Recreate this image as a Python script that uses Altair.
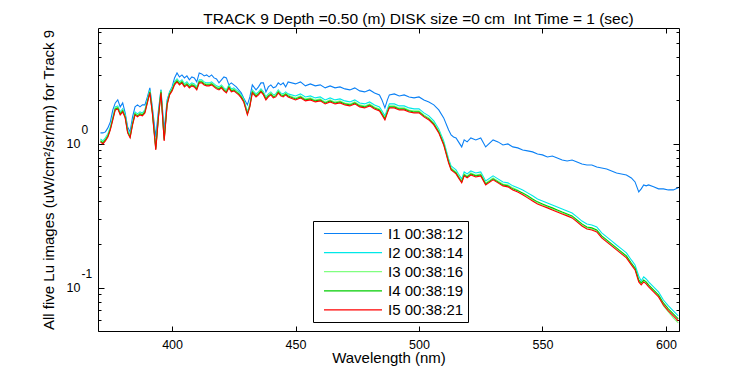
import altair as alt
import pandas as pd

wavelength = [371, 372, 373, 374, 375, 376, 377, 378, 379, 380,
              381, 382, 383, 384, 385, 386, 387, 388, 389, 390,
              391, 392, 393.4, 394.5, 395.5, 396.8, 398, 399, 400, 401,
              402, 403, 404, 405, 406, 407, 408, 409, 410, 411,
              412, 413, 414, 415, 416, 417, 418, 419, 420, 421,
              422, 423, 424, 425, 426, 427, 428, 429, 430.5, 431.5,
              432.5, 434, 435, 436, 437, 438, 439, 440, 441, 442,
              443, 444, 445, 446, 447, 450, 452, 454, 456, 458,
              460, 462, 464, 466, 468, 470, 472, 474, 476, 478,
              480, 482, 484, 485, 486.2, 487.2, 488, 490, 492, 494,
              496, 498, 500, 502, 504, 506, 508, 510, 512, 513,
              514, 515, 516, 517.3, 518.3, 519.5, 521, 523, 525, 527,
              530, 532, 534, 536, 538, 540, 542, 544, 546, 548,
              550, 552, 554, 556, 558, 560, 562, 564, 566, 568,
              570, 572, 574, 576, 578, 580, 582, 584, 586, 587.5,
              589, 590, 591, 592, 593, 595, 597, 599, 601, 603,
              605]

lu_i1 = [1.187, 1.187, 1.206, 1.286, 1.415, 1.714, 1.917, 2.012, 1.799, 1.917,
         1.634, 1.307, 1.206, 1.533, 1.799, 1.857, 1.799, 1.857, 1.857, 2.110,
         2.438, 1.799, 1.113, 1.714, 2.360, 1.245, 2.012, 2.286, 2.477, 2.859,
         3.097, 2.905, 3.000, 2.859, 2.952, 2.770, 2.905, 2.859, 2.683, 3.097,
         3.048, 2.952, 3.000, 2.905, 3.000, 2.859, 2.814, 2.640, 2.770, 2.905,
         2.859, 2.557, 2.640, 2.557, 2.477, 2.360, 2.250, 2.077, 1.857, 2.110,
         2.557, 2.360, 2.477, 2.640, 2.640, 2.286, 2.477, 2.557, 2.438, 2.477,
         2.640, 2.557, 2.640, 2.477, 2.683, 2.598, 2.683, 2.517, 2.598, 2.517,
         2.557, 2.438, 2.517, 2.438, 2.477, 2.399, 2.360, 2.438, 2.323, 2.286,
         2.360, 2.250, 2.179, 2.012, 1.770, 2.012, 2.179, 2.214, 2.144, 2.179,
         2.110, 2.077, 2.110, 2.012, 1.948, 1.857, 1.714, 1.509, 1.245, 1.150,
         1.113, 1.096, 1.028, 0.949, 1.061, 1.028, 1.096, 1.061, 1.096, 0.949,
         1.061, 1.028, 0.979, 0.995, 0.949, 0.934, 0.904, 0.890, 0.876, 0.848,
         0.835, 0.808, 0.821, 0.796, 0.770, 0.758, 0.770, 0.746, 0.722, 0.711,
         0.711, 0.689, 0.678, 0.667, 0.646, 0.626, 0.616, 0.606, 0.578, 0.542,
         0.462, 0.485, 0.517, 0.509, 0.517, 0.501, 0.485, 0.485, 0.477, 0.477,
         0.493]

lu_i2 = [1.078, 1.044, 1.096, 1.168, 1.307, 1.533, 1.799, 1.828, 1.660, 1.742,
         1.583, 1.245, 1.150, 1.415, 1.660, 1.608, 1.660, 1.634, 1.714, 2.012,
         2.360, 1.714, 0.949, 1.608, 2.360, 1.096, 1.948, 2.286, 2.438, 2.683,
         2.814, 2.683, 2.770, 2.598, 2.683, 2.557, 2.640, 2.598, 2.477, 2.770,
         2.770, 2.683, 2.640, 2.640, 2.683, 2.598, 2.517, 2.477, 2.557, 2.438,
         2.360, 2.557, 2.399, 2.438, 2.360, 2.286, 2.179, 2.044, 1.660, 1.887,
         2.360, 2.214, 2.286, 2.399, 2.286, 2.110, 2.214, 2.286, 2.179, 2.214,
         2.360, 2.250, 2.214, 2.286, 2.214, 2.144, 2.214, 2.110, 2.144, 2.077,
         2.110, 2.012, 2.077, 2.012, 2.044, 1.980, 1.948, 2.012, 1.917, 1.887,
         1.948, 1.857, 1.799, 1.687, 1.558, 1.742, 1.887, 1.887, 1.828, 1.828,
         1.770, 1.742, 1.742, 1.634, 1.558, 1.438, 1.265, 1.044, 0.783, 0.700,
         0.678, 0.657, 0.616, 0.569, 0.636, 0.616, 0.646, 0.626, 0.636, 0.551,
         0.597, 0.569, 0.542, 0.534, 0.509, 0.493, 0.477, 0.455, 0.434, 0.413,
         0.400, 0.387, 0.375, 0.363, 0.352, 0.341, 0.330, 0.310, 0.290, 0.277,
         0.272, 0.264, 0.2398, 0.2250, 0.2110, 0.1979, 0.1857, 0.1742, 0.1557, 0.1438,
         0.1206, 0.1113, 0.1187, 0.1149, 0.1096, 0.1011, 0.0934, 0.0821, 0.0747, 0.0689,
         0.0636]

lu_i3 = [1.061, 1.028, 1.078, 1.150, 1.286, 1.509, 1.770, 1.799, 1.634, 1.714,
         1.558, 1.226, 1.131, 1.393, 1.634, 1.583, 1.634, 1.608, 1.687, 1.980,
         2.323, 1.687, 0.934, 1.583, 2.323, 1.078, 1.917, 2.250, 2.399, 2.640,
         2.770, 2.640, 2.726, 2.557, 2.640, 2.517, 2.598, 2.557, 2.438, 2.726,
         2.726, 2.640, 2.598, 2.598, 2.640, 2.557, 2.477, 2.438, 2.517, 2.399,
         2.323, 2.517, 2.360, 2.399, 2.323, 2.250, 2.144, 2.012, 1.634, 1.857,
         2.323, 2.179, 2.250, 2.360, 2.250, 2.077, 2.179, 2.250, 2.144, 2.179,
         2.323, 2.214, 2.179, 2.250, 2.179, 2.077, 2.144, 2.044, 2.077, 2.012,
         2.044, 1.948, 2.012, 1.948, 1.980, 1.917, 1.887, 1.948, 1.857, 1.828,
         1.887, 1.799, 1.742, 1.634, 1.509, 1.687, 1.828, 1.828, 1.770, 1.770,
         1.714, 1.687, 1.687, 1.583, 1.509, 1.393, 1.226, 1.011, 0.758, 0.678,
         0.657, 0.636, 0.597, 0.551, 0.616, 0.597, 0.626, 0.606, 0.616, 0.534,
         0.578, 0.551, 0.525, 0.517, 0.493, 0.477, 0.448, 0.427, 0.406, 0.387,
         0.375, 0.363, 0.352, 0.341, 0.330, 0.320, 0.310, 0.290, 0.272, 0.260,
         0.2557, 0.2476, 0.2250, 0.2110, 0.1979, 0.1857, 0.1742, 0.1634, 0.1461, 0.1349,
         0.1113, 0.1061, 0.1113, 0.1078, 0.1028, 0.0949, 0.0876, 0.0747, 0.0678, 0.0616,
         0.0569]

lu_i4 = [1.044, 1.011, 1.061, 1.131, 1.265, 1.485, 1.742, 1.770, 1.608, 1.687,
         1.533, 1.206, 1.113, 1.371, 1.608, 1.558, 1.608, 1.583, 1.660, 1.948,
         2.286, 1.660, 0.919, 1.558, 2.286, 1.061, 1.887, 2.214, 2.360, 2.598,
         2.726, 2.598, 2.683, 2.517, 2.598, 2.477, 2.557, 2.517, 2.399, 2.683,
         2.683, 2.598, 2.557, 2.557, 2.598, 2.517, 2.438, 2.399, 2.477, 2.360,
         2.286, 2.477, 2.323, 2.360, 2.286, 2.214, 2.110, 1.980, 1.608, 1.828,
         2.286, 2.144, 2.214, 2.323, 2.214, 2.044, 2.144, 2.214, 2.110, 2.144,
         2.286, 2.179, 2.144, 2.214, 2.144, 2.044, 2.110, 2.012, 2.044, 1.980,
         2.012, 1.917, 1.980, 1.917, 1.948, 1.887, 1.857, 1.917, 1.828, 1.799,
         1.857, 1.770, 1.714, 1.608, 1.485, 1.660, 1.799, 1.799, 1.742, 1.742,
         1.687, 1.660, 1.660, 1.558, 1.485, 1.371, 1.206, 0.995, 0.746, 0.667,
         0.646, 0.626, 0.587, 0.542, 0.606, 0.587, 0.616, 0.597, 0.606, 0.525,
         0.569, 0.542, 0.517, 0.509, 0.485, 0.470, 0.455, 0.434, 0.413, 0.394,
         0.381, 0.369, 0.358, 0.346, 0.335, 0.325, 0.315, 0.295, 0.277, 0.264,
         0.260, 0.2516, 0.2286, 0.2144, 0.2011, 0.1887, 0.1770, 0.1660, 0.1484, 0.1370,
         0.1131, 0.1078, 0.1131, 0.1096, 0.1044, 0.0964, 0.0890, 0.0783, 0.0712, 0.0657,
         0.0606]

lu_i5 = [1.028, 0.995, 1.044, 1.113, 1.245, 1.461, 1.714, 1.742, 1.583, 1.660,
         1.509, 1.187, 1.096, 1.349, 1.583, 1.533, 1.583, 1.558, 1.634, 1.917,
         2.250, 1.634, 0.904, 1.533, 2.250, 1.044, 1.857, 2.179, 2.323, 2.557,
         2.683, 2.557, 2.640, 2.477, 2.557, 2.438, 2.517, 2.477, 2.360, 2.640,
         2.640, 2.557, 2.517, 2.517, 2.557, 2.477, 2.399, 2.360, 2.438, 2.323,
         2.250, 2.438, 2.286, 2.323, 2.250, 2.179, 2.077, 1.948, 1.583, 1.799,
         2.250, 2.110, 2.179, 2.286, 2.179, 2.012, 2.110, 2.179, 2.077, 2.110,
         2.250, 2.144, 2.110, 2.179, 2.110, 2.012, 2.077, 1.980, 2.012, 1.948,
         1.980, 1.887, 1.948, 1.887, 1.917, 1.857, 1.828, 1.887, 1.799, 1.770,
         1.828, 1.742, 1.687, 1.583, 1.461, 1.634, 1.770, 1.770, 1.714, 1.714,
         1.660, 1.634, 1.634, 1.533, 1.461, 1.349, 1.187, 0.979, 0.734, 0.657,
         0.636, 0.616, 0.578, 0.534, 0.597, 0.578, 0.606, 0.587, 0.597, 0.517,
         0.560, 0.534, 0.509, 0.501, 0.477, 0.462, 0.441, 0.420, 0.400, 0.381,
         0.369, 0.358, 0.346, 0.335, 0.325, 0.315, 0.305, 0.286, 0.268, 0.2557,
         0.2516, 0.2437, 0.2214, 0.2077, 0.1948, 0.1827, 0.1714, 0.1608, 0.1438, 0.1327,
         0.1096, 0.1044, 0.1096, 0.1061, 0.1011, 0.0934, 0.0862, 0.0759, 0.0689, 0.0636,
         0.0587]

series_names = ["I1 00:38:12", "I2 00:38:14", "I3 00:38:16", "I4 00:38:19", "I5 00:38:21"]
series_colors = ["#0a80f5", "#00e8e8", "#80ff80", "#00cc00", "#ff0000"]
series_values = [lu_i1, lu_i2, lu_i3, lu_i4, lu_i5]

x_ticks = [400, 450, 500, 550, 600]
y_major = [0.1, 1]
y_minor = [0.05, 0.06, 0.07, 0.08, 0.09, 0.2, 0.3, 0.4, 0.5, 0.6, 0.7, 0.8, 0.9, 2, 3, 4, 5, 6]

rows = []
for name, vals in zip(series_names, series_values):
    for w, v in zip(wavelength, vals):
        rows.append({"wl": w, "lu": v, "series": name})
df = pd.DataFrame(rows)

W, H = 581, 303
FONT = "Liberation Sans"

xs = alt.Scale(domain=[370, 605.3], nice=False, zero=False)
ys = alt.Scale(type="log", domain=[0.05, 6.35], nice=False)

main = alt.Chart(df).mark_line(strokeWidth=1.1, clip=True).encode(
    x=alt.X("wl:Q", scale=xs, axis=alt.Axis(
        orient="bottom", values=x_ticks, format="d", tickSize=0, labelPadding=7,
        labelFontSize=12.5, title="Wavelength (nm)", titleFontSize=15, titlePadding=0)),
    y=alt.Y("lu:Q", scale=ys, axis=alt.Axis(
        orient="left", values=y_major, labelExpr="'10'", tickSize=0, labelPadding=18,
        labelFontSize=12.5, title="All five Lu images (uW/cm²/sr/nm) for Track 9",
        titleFontSize=15, titlePadding=10)),
    color=alt.Color("series:N", scale=alt.Scale(domain=series_names, range=series_colors),
                    legend=alt.Legend(title=None, orient="none", legendX=215, legendY=193,
                                      symbolType="M-3.87,0H3.87", symbolSize=225,
                                      symbolStrokeWidth=1.2, symbolFillColor="transparent",
                                      symbolOffset=27.5, labelOffset=26.5, labelFontSize=15,
                                      labelFont=FONT, labelColor="black", padding=4,
                                      rowPadding=2.1, strokeColor="black", fillColor="white")),
)


def axis_layer(xaxis, yaxis):
    return alt.Chart(df).mark_line(strokeOpacity=0, clip=True).encode(
        x=alt.X("wl:Q", scale=xs, axis=xaxis),
        y=alt.Y("lu:Q", scale=ys, axis=yaxis),
        detail="series:N",
    )


# inward ticks at the bottom and left edges
ticks_a = axis_layer(
    alt.Axis(orient="top", offset=-H, values=x_ticks, tickSize=5, labels=False, domain=False, title=None),
    alt.Axis(orient="right", offset=-W, values=y_minor, tickSize=3, labels=False, domain=False, title=None),
)
# top and right box edges with inward ticks
ticks_b = axis_layer(
    alt.Axis(orient="bottom", offset=-H, values=x_ticks, tickSize=5, labels=False, domain=True, title=None),
    alt.Axis(orient="left", offset=-W, values=y_minor, tickSize=3, labels=False, domain=True, title=None),
)
ticks_c = axis_layer(
    None,
    alt.Axis(orient="right", offset=-W, values=y_major, tickSize=6, labels=False, domain=False, title=None),
)
ticks_d = axis_layer(
    None,
    alt.Axis(orient="left", offset=-W, values=y_major, tickSize=6, labels=False, domain=False, title=None),
)
# exponents of the decade labels
exponents = axis_layer(
    None,
    alt.Axis(orient="left", values=y_major, labelExpr="datum.value >= 1 ? '0' : '-1'",
             labelAlign="left", labelPadding=17, labelOffset=-14, tickSize=0, ticks=False,
             domain=False, labelFontSize=12, title=None),
)

chart = alt.layer(main, ticks_a, ticks_b, ticks_c, ticks_d, exponents).resolve_axis(
    x="independent", y="independent"
).properties(
    width=W, height=H,
    autosize=alt.AutoSizeParams(type="none"),
    padding={"left": 90, "top": 20, "right": 60, "bottom": 36},
    background="white",
    title=alt.TitleParams(
        text="TRACK 9 Depth =0.50 (m) DISK size =0 cm \u00a0Int Time = 1 (sec)",
        font=FONT, fontSize=15.5, fontWeight="normal", color="black",
        anchor="middle", frame="group", dx=30, dy=18, offset=6, baseline="alphabetic"),
).configure_view(stroke=None).configure_axis(
    grid=False, labelFont=FONT, titleFont=FONT, labelColor="black", titleColor="black",
    domainColor="black", tickColor="black", titleFontWeight="normal",
    domainWidth=1, tickWidth=1,
)

chart.save("out.html", embed_options={"renderer": "svg", "actions": False})
